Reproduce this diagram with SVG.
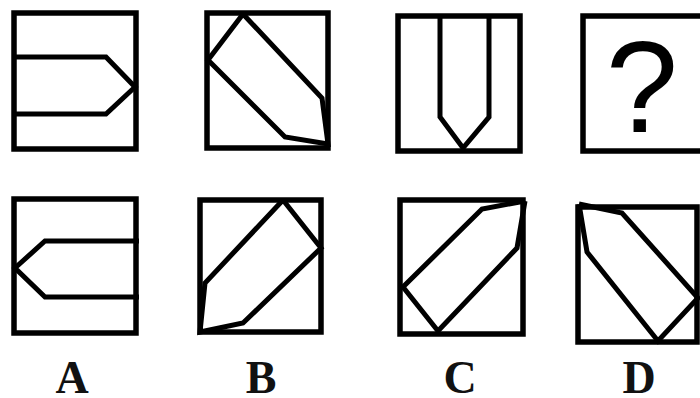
<svg xmlns="http://www.w3.org/2000/svg" width="700" height="398" viewBox="0 0 700 398">
<style>
.box{fill:none;stroke:#000;stroke-width:5.5}
.ln{fill:none;stroke:#000;stroke-width:5;stroke-linejoin:miter;stroke-linecap:butt}
.lbl{font-family:"Liberation Serif","Times New Roman",serif;font-weight:bold;font-size:46px;text-anchor:middle;fill:#111}
.q{font-family:"Liberation Sans",Arial,sans-serif;font-size:130px;text-anchor:middle;fill:#000}
</style>
<rect width="700" height="398" fill="#fff"/>
<g id="fig1">
<rect class="box" x="14" y="13" width="122" height="136"/>
<polyline class="ln" points="14,57 106,57 135,87 106,114 14,114"/>
</g>
<g id="fig2">
<rect class="box" x="207" y="13" width="121" height="135"/>
<polyline class="ln" points="243,14 208,60 285,137 328,144 322,98 243,14"/>
</g>
<g id="fig3">
<rect class="box" x="398" y="16" width="122" height="135"/>
<polyline class="ln" points="440,16 440,117 463,148 489,117 489,16"/>
</g>
<g id="fig4">
<rect class="box" x="583" y="16" width="125" height="135"/>
<text class="q" x="642" y="132">?</text>
</g>
<g id="optA">
<rect class="box" x="14" y="199" width="122" height="134"/>
<polyline class="ln" points="139,241 45,241 15,268 45,297 139,297"/>
</g>
<g id="optB">
<rect class="box" x="200" y="200" width="121" height="132"/>
<polyline class="ln" points="283,200 321,248 243,323 200,332 205,283 283,200"/>
</g>
<g id="optC">
<rect class="box" x="400" y="200" width="123" height="134"/>
<polyline class="ln" points="525,201 482,209 403,287 438,331 517,248 525,201"/>
</g>
<g id="optD">
<rect class="box" x="578" y="207" width="119" height="135"/>
<polyline class="ln" points="579,204 622,213 698,298 658,341 587,252 579,204"/>
</g>
<g id="labels">
<text class="lbl" x="72" y="393">A</text>
<text class="lbl" x="261" y="393">B</text>
<text class="lbl" x="460" y="393">C</text>
<text class="lbl" x="639" y="393">D</text>
</g>
</svg>
